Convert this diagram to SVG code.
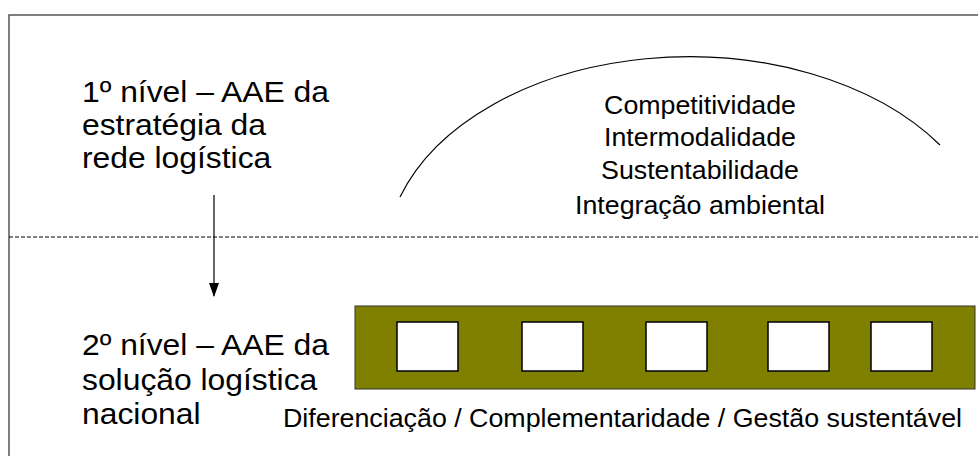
<svg xmlns="http://www.w3.org/2000/svg" width="978" height="456" viewBox="0 0 978 456">
<style>
text{font-family:"Liberation Sans",Arial,sans-serif;fill:#000}
.big{font-size:29px}
.mid{font-size:26px}
.sq{fill:#fff;stroke:#000;stroke-width:1.5}
</style>
<defs>
<marker id="ah" markerWidth="14" markerHeight="10" refX="13" refY="5" orient="auto" markerUnits="userSpaceOnUse" viewBox="0 0 14 10">
<path d="M0,0 L14,5 L0,10 Z" fill="#000"/>
</marker>
</defs>
<rect x="0" y="0" width="978" height="456" fill="#fff"/>
<g id="frame">
<rect x="9" y="15" width="1000" height="480" fill="none" stroke="#555" stroke-width="1.5"/>
<line x1="9" y1="237" x2="978" y2="237" stroke="#000" stroke-width="1" stroke-dasharray="4,2"/>
</g>
<g id="level1" transform="translate(82,0) scale(1.098,1)">
<text class="big" x="0" y="102">1º nível – AAE da</text>
<text class="big" x="0" y="135">estratégia da</text>
<text class="big" x="0" y="168">rede logística</text>
</g>
<g id="level2" transform="translate(82,0) scale(1.098,1)">
<text class="big" x="0" y="355">2º nível – AAE da</text>
<text class="big" x="0" y="390">solução logística</text>
<text class="big" x="0" y="424">nacional</text>
</g>
<g id="goals">
<path d="M400,197 A304,203 0 0 1 940,145" fill="none" stroke="#000" stroke-width="1.2"/>
<g transform="translate(700,0) scale(1.03,1)">
<text class="mid" text-anchor="middle" x="0" y="114">Competitividade</text>
<text class="mid" text-anchor="middle" x="0" y="146">Intermodalidade</text>
<text class="mid" text-anchor="middle" x="0" y="179">Sustentabilidade</text>
<text class="mid" text-anchor="middle" x="0" y="214">Integração ambiental</text>
</g>
</g>
<g id="solution">
<rect x="355" y="306" width="620" height="83" fill="#808000" stroke="#333" stroke-width="1"/>
<rect class="sq" x="397" y="322" width="61" height="49"/>
<rect class="sq" x="522" y="322" width="61" height="49"/>
<rect class="sq" x="646" y="322" width="61" height="49"/>
<rect class="sq" x="768" y="322" width="61" height="49"/>
<rect class="sq" x="871" y="322" width="61" height="49"/>
<text class="mid" x="283" y="427" textLength="679" lengthAdjust="spacingAndGlyphs">Diferenciação / Complementaridade / Gestão sustentável</text>
</g>
<g id="connectors">
<line x1="214" y1="195" x2="214" y2="296" stroke="#000" stroke-width="1.2" marker-end="url(#ah)"/>
</g>
</svg>
